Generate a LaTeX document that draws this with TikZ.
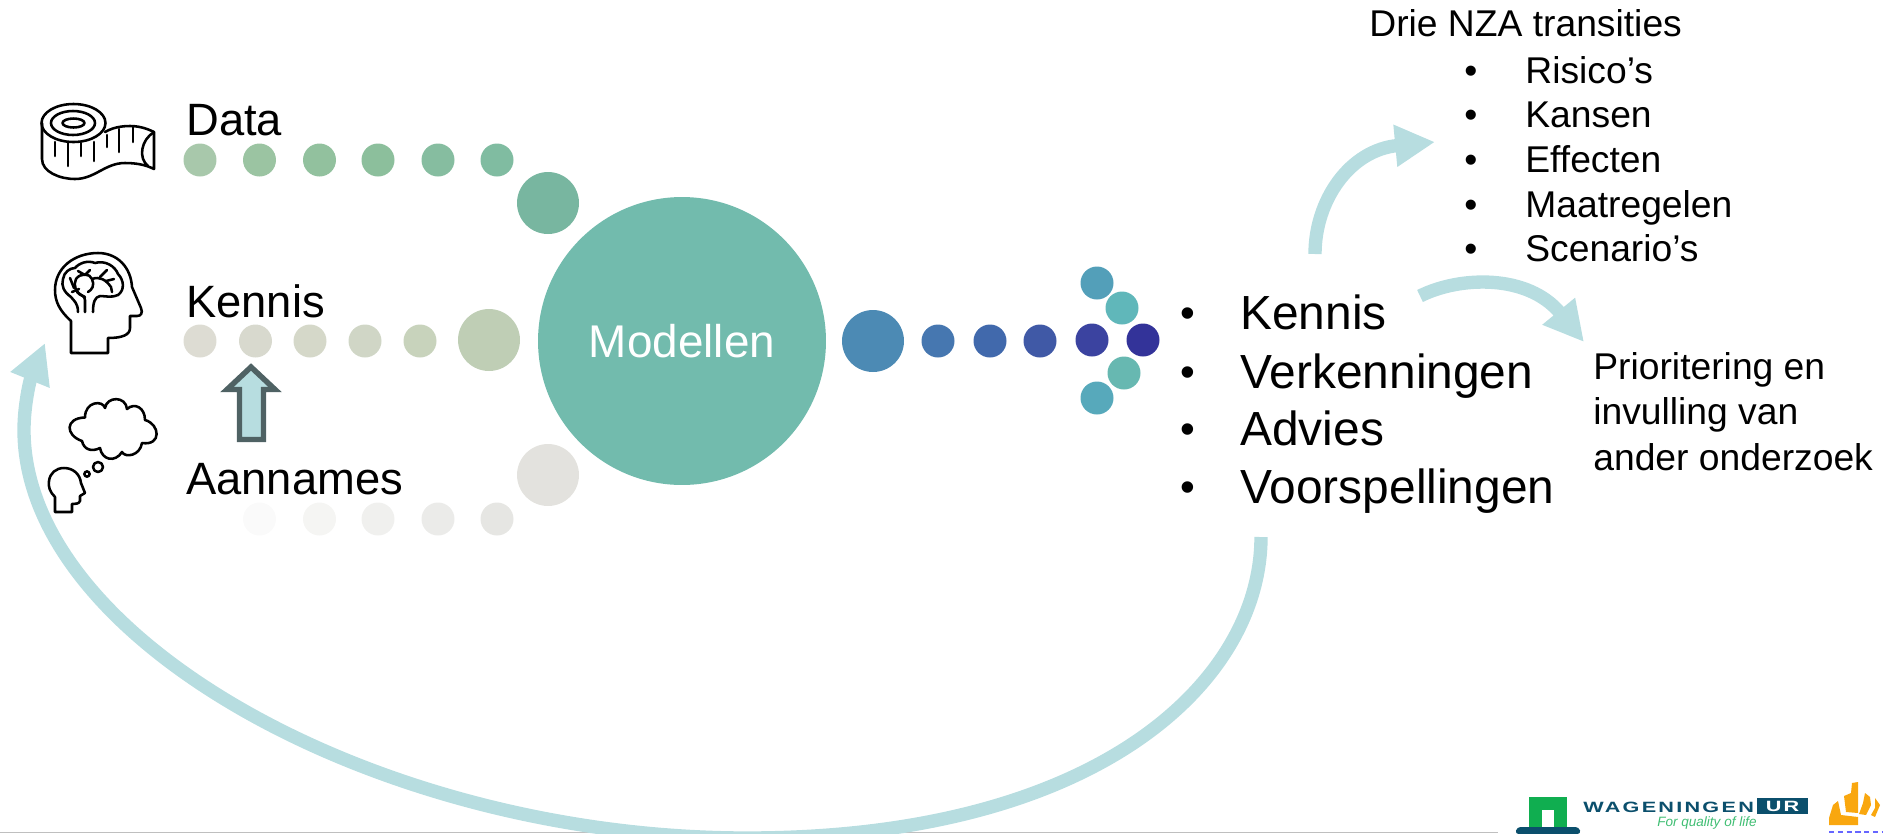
\documentclass[tikz,border=0pt]{standalone}
\usepackage{fontspec}
\setmainfont{Liberation Sans}
\usetikzlibrary{arrows.meta}
\newfontfamily\wurfont[LetterSpace=15,FakeStretch=1.45]{Liberation Sans}

\definecolor{pijl}{HTML}{B7DDE0}
\definecolor{pijlrand}{HTML}{4F6264}
\definecolor{model}{HTML}{72BBAD}
\definecolor{wurgreen}{HTML}{10AE50}
\definecolor{wurblue}{HTML}{0B4F6C}
\definecolor{kroon}{HTML}{F9A70F}

\begin{document}
\begin{tikzpicture}[
  x=0.02cm,
  y=-0.02cm,
  dot/.style={circle, inner sep=0pt, minimum size=0.66cm},
  bigdot/.style={circle, inner sep=0pt, minimum size=1.24cm},
  rowtext/.style={anchor=base west, inner sep=0pt, font=\fontsize{25.8}{30}\selectfont},
  listtext/.style={anchor=base west, inner sep=0pt, font=\fontsize{27.25}{32}\selectfont},
  listbullet/.style={anchor=base, inner sep=0pt, font=\fontsize{24}{28}\selectfont},
  smalltext/.style={anchor=base west, inner sep=0pt, font=\fontsize{21.2}{26}\selectfont},
  pijlline/.style={pijl, line width=7.6pt, -{Triangle[width=22.5pt, length=22.7pt]}},
  icon/.style={line width=1.45pt, line join=round, line cap=round}
  ]
    \useasboundingbox (0,0) rectangle (1883,833);
    \clip (0,0) rectangle (1883,833);

    % bottom rule
    \fill[black!25] (0,831.5) rectangle (1498,833);

%data row
\node[dot, fill={rgb,255:red,168;green,200;blue,171}] (data1) at (200,160) {};
\node[dot, fill={rgb,255:red,155;green,196;blue,162}] (data2) at (259.5,160) {};
\node[dot, fill={rgb,255:red,146;green,193;blue,158}] (data3) at (319.5,160) {};
\node[dot, fill={rgb,255:red,140;green,191;blue,156}] (data4) at (378,160) {};
\node[dot, fill={rgb,255:red,134;green,189;blue,160}] (data5) at (438,160) {};
\node[dot, fill={rgb,255:red,128;green,188;blue,161}] (data6) at (497,160) {};
\node[bigdot, fill={rgb,255:red,120;green,182;blue,160}] (data7) at (548,203) {};

%kennis row
\node[dot, fill={rgb,255:red,221;green,220;blue,211}] (kennis1) at (200,341) {};
\node[dot, fill={rgb,255:red,216;green,217;blue,206}] (kennis2) at (255.5,341) {};
\node[dot, fill={rgb,255:red,213;green,216;blue,201}] (kennis3) at (310,341) {};
\node[dot, fill={rgb,255:red,208;green,214;blue,198}] (kennis4) at (365,341) {};
\node[dot, fill={rgb,255:red,200;green,211;blue,188}] (kennis5) at (420,341) {};
\node[bigdot, fill={rgb,255:red,191;green,206;blue,181}] (kennis6) at (489,340) {};

%aannames row
\node[dot, fill={rgb,255:red,250;green,250;blue,250}] (aanname1) at (259.5,519) {};
\node[dot, fill={rgb,255:red,245;green,245;blue,243}] (aanname2) at (319.5,519) {};
\node[dot, fill={rgb,255:red,240;green,240;blue,238}] (aanname3) at (378,519) {};
\node[dot, fill={rgb,255:red,235;green,235;blue,233}] (aanname4) at (438,519) {};
\node[dot, fill={rgb,255:red,230;green,230;blue,227}] (aanname5) at (497,519) {};
\node[bigdot, fill={rgb,255:red,227;green,226;blue,222}] (aanname6) at (548,475) {};

%model
\node[circle, inner sep=0pt, minimum size=5.76cm, fill=model, text=white, font=\fontsize{26.1}{32}\selectfont] (modellen) at (682,341) {Modellen};

%output row
\node[bigdot, fill={rgb,255:red,76;green,138;blue,180}] (uit1) at (873,341) {};
\node[dot, fill={rgb,255:red,70;green,119;blue,176}] (uit2) at (938,341) {};
\node[dot, fill={rgb,255:red,65;green,105;blue,172}] (uit3) at (990,341) {};
\node[dot, fill={rgb,255:red,64;green,89;blue,166}] (uit4) at (1040,341) {};
\node[dot, fill={rgb,255:red,59;green,67;blue,160}] (uit5) at (1092,340) {};
\node[dot, fill={rgb,255:red,51;green,51;blue,153}] (uit6) at (1143,340) {};
\node[dot, fill={rgb,255:red,83;green,159;blue,185}] (uit7) at (1097,283) {};
\node[dot, fill={rgb,255:red,96;green,183;blue,186}] (uit8) at (1122,308) {};
\node[dot, fill={rgb,255:red,103;green,184;blue,177}] (uit9) at (1124,373) {};
\node[dot, fill={rgb,255:red,87;green,169;blue,187}] (uit10) at (1097,398) {};

%row labels
\node[rowtext] (data) at (186,135) {Data};
\node[rowtext] (kennis) at (186,317) {Kennis};
\node[rowtext] (aannames) at (186,494) {Aannames};

%output list
\node[listbullet] (b1) at (1188,327) {•};
\node[listbullet] (b2) at (1188,386) {•};
\node[listbullet] (b3) at (1188,443) {•};
\node[listbullet] (b4) at (1188,501) {•};
\node[listtext] (kennislist) at (1240,329) {Kennis};
\node[listtext] (verkenningen) at (1240,388) {Verkenningen};
\node[listtext] (advies) at (1240,445) {Advies};
\node[listtext] (voorspellingen) at (1240,503) {Voorspellingen};

%transitions list
\node[smalltext] (drie) at (1369,36) {Drie NZA transities};
\node[smalltext, anchor=base] (t1) at (1471,83) {•};
\node[smalltext, anchor=base] (t2) at (1471,127) {•};
\node[smalltext, anchor=base] (t3) at (1471,172) {•};
\node[smalltext, anchor=base] (t4) at (1471,217) {•};
\node[smalltext, anchor=base] (t5) at (1471,261) {•};
\node[smalltext] (risicos) at (1525,83) {Risico’s};
\node[smalltext] (kansen) at (1525,127) {Kansen};
\node[smalltext] (effecten) at (1525,172) {Effecten};
\node[smalltext] (maatregelen) at (1525,217) {Maatregelen};
\node[smalltext] (scenarios) at (1525,261) {Scenario’s};

%other research
\node[smalltext] (prio1) at (1593,379) {Prioritering en};
\node[smalltext] (prio2) at (1593,424) {invulling van};
\node[smalltext] (prio3) at (1593,470) {ander onderzoek};

%arrows
\coordinate (terugvan) at (1261,537);
\coordinate (terugmid) at (747,838);
\coordinate (terugzij) at (24,430);
\coordinate (terugnaar) at (45,343);
\coordinate (risvan) at (1315,254);
\coordinate (risnaar) at (1435,142);
\coordinate (priovan) at (1420,296);
\coordinate (prionaar) at (1584,342);

\draw[pijlline] (terugvan) .. controls (1261,680) and (1100,838) .. (terugmid) .. controls (380,838) and (24,640) .. (terugzij) .. controls (24,405) and (30,380) .. (terugnaar);
\draw[pijlline] (risvan) .. controls (1315,200) and (1350,150) .. (risnaar);
\draw[pijlline] (priovan) .. controls (1460,276) and (1528,274) .. (prionaar);

% hollow arrow
\draw[fill=pijl, draw=pijlrand, line width=3.1pt, miter limit=5] (251,367) -- (275,389.5) -- (263.5,389.5) -- (263.5,439.5) -- (239.5,439.5) -- (239.5,389.5) -- (227,389.5) -- cycle;

%tape measure
\draw[icon] (73.5,123) ellipse (32 and 19);
\draw[icon] (73,123) ellipse (22 and 12);
\draw[icon] (73.5,123) ellipse (11 and 4.5);
\draw[icon] (42,123) -- (42,159) .. controls (42,172) and (60,179) .. (75,179) .. controls (95,179) and (105,163) .. (125,163) .. controls (137,163) and (146,165) .. (154,169) -- (154,132) .. controls (146,128) and (138,126) .. (130,126) .. controls (120,126) and (112,128) .. (105,132);
\draw[icon] (154,132) .. controls (141,140) and (138,158) .. (148,166);
\draw[icon] (55,142) -- (55,156);
\draw[icon] (68,143) -- (68,166);
\draw[icon] (81,143) -- (81,156);
\draw[icon] (94,142) -- (94,161);
\draw[icon] (107,135) -- (107,147);
\draw[icon] (119,129) -- (119,152);
\draw[icon] (133,127) -- (133,142);

%head with brain
\draw[icon] (71,353) -- (71,321) .. controls (60,311) and (55,302) .. (55,290) .. controls (55,268) and (74,253) .. (98,253) .. controls (118,253) and (131,268) .. (132,287) -- (141,308) .. controls (143,313) and (141,316) .. (137,316) -- (130,316) -- (130,328) .. controls (130,335) and (122,338) .. (108,338) -- (108,353) -- cycle;
\draw[icon] (78,312) .. controls (78,303) and (74,301) .. (71,297) .. controls (64,292) and (61,286) .. (63,279) .. controls (64,272) and (70,268) .. (75,268) .. controls (79,263) and (88,260) .. (95,263) .. controls (105,260) and (115,266) .. (118,274) .. controls (124,280) and (125,290) .. (118,295) .. controls (112,298) and (105,296) .. (100,296) .. controls (95,297) and (93,302) .. (93,312);
\draw[icon] (85,312) -- (85,300) .. controls (85,295) and (80,296) .. (77,292);
\draw[icon] (85,297) .. controls (75,293) and (73,285) .. (76,279) .. controls (80,273) and (90,273) .. (92,279) .. controls (95,285) and (92,290) .. (88,292);
\draw[icon] (78,271) -- (85,275) -- (90,270);
\draw[icon] (70,278) -- (74,288);
\draw[icon] (92,279) .. controls (100,276) and (106,280) .. (111,287) -- (112,292);
\draw[icon] (100,277) -- (107,270);
\draw[icon] (106,281) -- (114,279);
\draw[icon] (72,292) -- (79,289);

%thinking head
\draw[icon] (55,512) -- (55,497) .. controls (50,492) and (48,487) .. (49,481) .. controls (50,473) and (56,468) .. (64,468) .. controls (73,468) and (80,474) .. (81,483) -- (85,493) -- (80,496) -- (80,501) .. controls (79,504) and (75,504) .. (72,504) -- (72,512) -- cycle;
\draw[icon] (98,467) circle (5);
\draw[icon] (87,474) circle (2.6);

%cloud
\draw[icon] (82,441) .. controls (65,435) and (65,418) .. (85,417.5) .. controls (85,401) and (103,400) .. (105,408) .. controls (107,396) and (126,396) .. (127,409) .. controls (135,402) and (145,408) .. (145,420) .. controls (160,424) and (162,446) .. (142,443) .. controls (140,456) and (125,458) .. (122,452) .. controls (115,463) and (102,460) .. (100,448) .. controls (92,452) and (84,450) .. (82,441) -- cycle;

%logo
\fill[wurgreen] (1529,797) rectangle (1567,830);
\fill[white] (1542,810) rectangle (1554,830);
\fill[wurblue, rounded corners=2pt] (1515,834) -- (1517,827) -- (1579,827) -- (1581,834) -- cycle;
\node[anchor=base west, inner sep=0pt, text=wurblue, font=\wurfont\bfseries\fontsize{8.5}{10}\selectfont] (wageningen) at (1583,812) {WAGENINGEN};
\node[fill=wurblue, minimum width=1.02cm, minimum height=0.32cm, inner sep=0pt, text=white, font=\wurfont\bfseries\fontsize{8.5}{10}\selectfont] (ur) at (1782.5,806) {UR};
\node[anchor=base west, inner sep=0pt, text=wurgreen!80, font=\itshape\fontsize{7.7}{9}\selectfont] (quality) at (1657,826) {For quality of life};

%crown
\fill[kroon] (1858,782) -- (1852,783) -- (1851,793) -- (1844,796) -- (1846,812) -- (1858,813) -- cycle;
\fill[kroon] (1833,805) -- (1838,801) -- (1841,815) -- (1858,817) -- (1858,825) -- (1829,825) -- (1829,818) -- cycle;
\fill[kroon] (1865,793) -- (1870,797) -- (1871,805) -- (1866,815) -- (1859,814) -- (1863,803) -- cycle;
\fill[kroon] (1875,798) -- (1880,805) -- (1875,817) -- (1871,815) -- (1875,808) -- cycle;
\draw[blue!60, line width=1pt, dash pattern=on 3pt off 2pt] (1829,832) -- (1883,832);

\end{tikzpicture}
\end{document}
